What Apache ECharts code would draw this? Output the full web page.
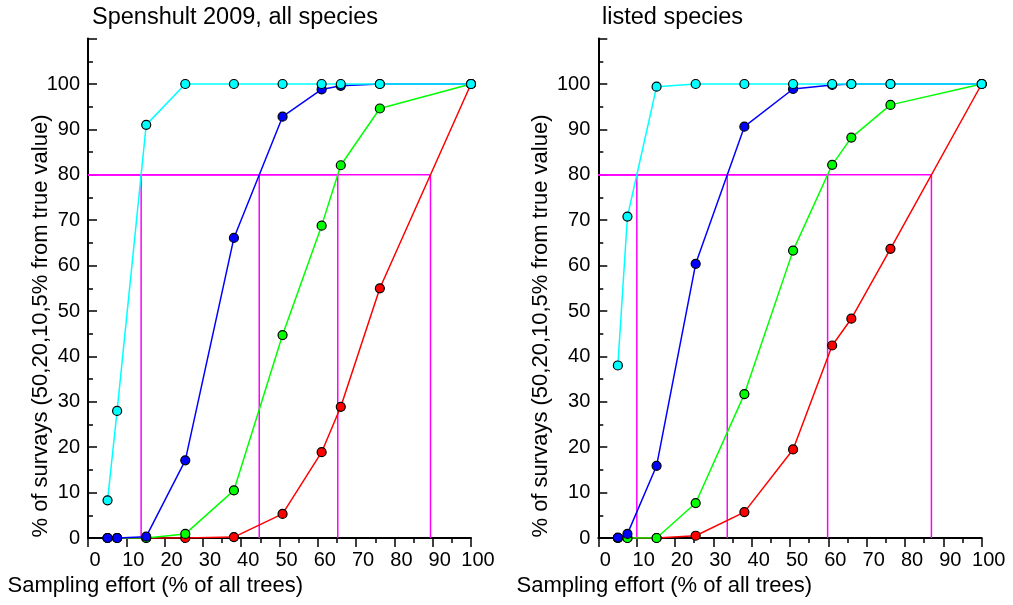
<!DOCTYPE html>
<html>
<head>
<meta charset="utf-8">
<script src="https://cdn.jsdelivr.net/npm/echarts@6/dist/echarts.min.js"></script>
<style>
  html, body { margin: 0; padding: 0; background: #fff; }
  #chart { width: 1013px; height: 605px; }
</style>
</head>
<body>
<div id="chart"></div>
<script>
// Sampling effort (% of all trees) at which surveys were simulated
var effort = [5.1, 7.6, 15.2, 25.4, 38.1, 50.8, 61.0, 66.0, 76.2, 100];

// Share of surveys within 50%, 20%, 10% and 5% of the true value
// Panel 1: all species
var allCyan  = [8.3, 28.0, 91.0, 100, 100, 100, 100, 100, 100, 100];
var allBlue  = [0, 0, 0.3, 17.1, 66.1, 92.8, 98.8, 99.6, 100, 100];
var allGreen = [0, 0, 0, 0.9, 10.5, 44.7, 68.8, 82.1, 94.6, 100];
var allRed   = [0, 0, 0, 0, 0.2, 5.3, 18.9, 28.9, 55.0, 100];

// Panel 2: listed species
var listCyan  = [38.0, 70.8, 99.4, 100, 100, 100, 100, 100, 100, 100];
var listBlue  = [0.1, 0.9, 15.9, 60.4, 90.6, 98.9, 99.8, 100, 100, 100];
var listGreen = [0, 0, 0, 7.7, 31.7, 63.3, 82.2, 88.2, 95.4, 100];
var listRed   = [0, 0, 0, 0.5, 5.7, 19.5, 42.4, 48.3, 63.7, 100];

// Threshold level marked with the magenta guide lines
var threshold = 80;

var panelTitles = ['Spenshult 2009, all species', 'listed species'];
var xAxisTitle = 'Sampling effort (% of all trees)';
var yAxisTitle = '% of survays (50,20,10,5% from true value)';

var colors = { cyan: '#00ffff', blue: '#0000ff', green: '#00ff00', red: '#ff0000', guide: '#ff00ff' };
var FONT = '"Liberation Sans", Arial, Helvetica, sans-serif';

function pairs(ys) {
  return effort.map(function (x, i) { return [x, ys[i]]; });
}

// effort at which a curve first reaches the threshold (linear interpolation)
function crossing(ys) {
  for (var i = 1; i < ys.length; i++) {
    if (ys[i - 1] < threshold && ys[i] >= threshold) {
      var t = (threshold - ys[i - 1]) / (ys[i] - ys[i - 1]);
      return effort[i - 1] + t * (effort[i] - effort[i - 1]);
    }
  }
  return null;
}

function guideSeries(ys, idx) {
  var xc = crossing(ys);
  return {
    type: 'line', xAxisIndex: idx, yAxisIndex: idx, z: 1,
    data: [[0, threshold], [xc, threshold], [xc, 0]],
    symbol: 'none', silent: true,
    lineStyle: { color: colors.guide, width: 1.5 }
  };
}

function curveSeries(ys, color, idx, z) {
  return {
    type: 'line', xAxisIndex: idx, yAxisIndex: idx, z: z,
    data: pairs(ys),
    symbol: 'circle', symbolSize: 9,
    lineStyle: { color: color, width: 1.5 },
    itemStyle: { color: color, borderColor: '#000', borderWidth: 1.2 },
    emphasis: { disabled: true },
    animation: false
  };
}

function xAxisDef(idx) {
  return {
    type: 'value', gridIndex: idx, min: 0, max: 100, interval: 10,
    axisLine: { onZero: false, lineStyle: { color: '#000', width: 2 } },
    axisTick: { show: true, inside: false, length: 9, lineStyle: { color: '#000', width: 1.5 } },
    minorTick: { show: true, splitNumber: 2, length: 5, lineStyle: { color: '#000', width: 1.5 } },
    splitLine: { show: false },
    axisLabel: { color: '#000', fontSize: 20, fontFamily: FONT, margin: 12, padding: [0, 0, 0, 14] }
  };
}

function yAxisDef(idx) {
  return {
    type: 'value', gridIndex: idx, min: 0, max: 110, interval: 10,
    axisLine: { show: true, lineStyle: { color: '#000', width: 2 } },
    axisTick: { show: true, inside: true, length: 9, lineStyle: { color: '#000', width: 1.5 } },
    minorTick: { show: true, splitNumber: 2, length: 5, lineStyle: { color: '#000', width: 1.5 } },
    splitLine: { show: false },
    axisLabel: {
      color: '#000', fontSize: 20, fontFamily: FONT, margin: 8,
      formatter: function (v) { return v > 100 ? '' : String(v); }
    }
  };
}

function textEl(str, x, y, size, align, vAlign, rot) {
  return {
    type: 'text', x: x, y: y, rotation: rot || 0, silent: true,
    style: { text: str, fill: '#000', fontSize: size, fontFamily: FONT, textAlign: align, textVerticalAlign: vAlign }
  };
}

var chart = echarts.init(document.getElementById('chart'), null, { renderer: 'canvas' });

chart.setOption({
  animation: false,
  backgroundColor: '#fff',
  grid: [
    { left: 88, top: 38.6, width: 383, height: 499.4 },
    { left: 598.3, top: 38.6, width: 383.4, height: 499.4 }
  ],
  xAxis: [xAxisDef(0), xAxisDef(1)],
  yAxis: [yAxisDef(0), yAxisDef(1)],
  graphic: [
    textEl(panelTitles[0], 92, 18, 23.5, 'left', 'middle'),
    textEl(panelTitles[1], 602, 18, 23.5, 'left', 'middle'),
    textEl(xAxisTitle, 303, 586, 22, 'right', 'middle'),
    textEl(xAxisTitle, 812, 586, 22, 'right', 'middle'),
    textEl(yAxisTitle, 41, 326, 22, 'center', 'middle', Math.PI / 2),
    textEl(yAxisTitle, 541, 326, 22, 'center', 'middle', Math.PI / 2)
  ],
  series: [
    guideSeries(allCyan, 0), guideSeries(allBlue, 0), guideSeries(allGreen, 0), guideSeries(allRed, 0),
    curveSeries(allRed, colors.red, 0, 2),
    curveSeries(allGreen, colors.green, 0, 3),
    curveSeries(allBlue, colors.blue, 0, 4),
    curveSeries(allCyan, colors.cyan, 0, 5),
    guideSeries(listCyan, 1), guideSeries(listBlue, 1), guideSeries(listGreen, 1), guideSeries(listRed, 1),
    curveSeries(listRed, colors.red, 1, 2),
    curveSeries(listGreen, colors.green, 1, 3),
    curveSeries(listBlue, colors.blue, 1, 4),
    curveSeries(listCyan, colors.cyan, 1, 5)
  ]
});
</script>
</body>
</html>
